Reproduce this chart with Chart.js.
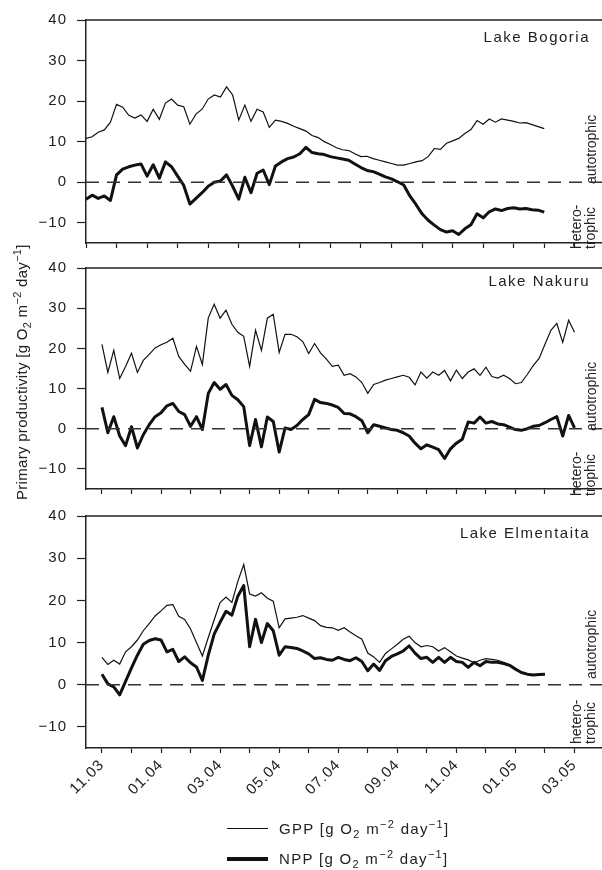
<!DOCTYPE html>
<html lang="en">
<head>
<meta charset="UTF-8">
<title>Primary productivity</title>
<script src="https://cdn.jsdelivr.net/npm/chart.js@4.4.1/dist/chart.umd.min.js"></script>
<style>
  body { margin: 0; background: #fff; }
  #fig { position: relative; width: 602px; height: 870px; overflow: hidden; background: #fff;
         font-family: "Liberation Sans", Arial, sans-serif; color: #222; }
  #fig canvas { position: absolute; left: 0; }
  .lake { position: absolute; right: 12px; font-size: 15px; letter-spacing: 1.5px; line-height: 18px; }
  .rot { position: absolute; transform-origin: 0 0; transform: rotate(-90deg); white-space: nowrap;
         font-size: 14px; line-height: 14px; }
  .ytitle { font-size: 15px; line-height: 18px; letter-spacing: 0.3px; }
  .leg { position: absolute; left: 279px; font-size: 15px; line-height: 18px; letter-spacing: 1.3px; white-space: nowrap; }
  .legline { position: absolute; left: 227px; width: 41px; background: #111; }
  sub, sup { font-size: 11px; line-height: 0; }
</style>
</head>
<body>
<div id="fig">
  <canvas id="bogoria" width="602" height="262" style="top:0px"></canvas>
  <canvas id="nakuru" width="602" height="262" style="top:246px"></canvas>
  <canvas id="elmentaita" width="602" height="326" style="top:494px"></canvas>

  <div class="lake" style="top:28px">Lake Bogoria</div>
  <div class="lake" style="top:272px">Lake Nakuru</div>
  <div class="lake" style="top:524px">Lake Elmentaita</div>

  <div class="rot" style="left:584px; top:184px">autotrophic</div>
  <div class="rot" style="left:569px; top:249px">hetero-<br>trophic</div>
  <div class="rot" style="left:584px; top:431px">autotrophic</div>
  <div class="rot" style="left:569px; top:496px">hetero-<br>trophic</div>
  <div class="rot" style="left:584px; top:679px">autotrophic</div>
  <div class="rot" style="left:569px; top:744px">hetero-<br>trophic</div>

  <div class="rot ytitle" style="left:13px; top:500px">Primary productivity [g O<sub>2</sub> m<sup>&minus;2</sup> day<sup>&minus;1</sup>]</div>

  <div class="legline" style="top:828px; height:1.3px"></div>
  <div class="leg" style="top:820px">GPP [g O<sub>2</sub> m<sup>&minus;2</sup> day<sup>&minus;1</sup>]</div>
  <div class="legline" style="top:857px; height:3.5px"></div>
  <div class="leg" style="top:850px">NPP [g O<sub>2</sub> m<sup>&minus;2</sup> day<sup>&minus;1</sup>]</div>
</div>

<script>
// x = months since 1 Nov 2003, one value every STEP months
const STEP = 0.2;
const DATE_LABELS = ['11.03', '01.04', '03.04', '05.04', '07.04', '09.04', '11.04', '01.05', '03.05'];
const MONTH_TICKS = [0, 1, 2, 3, 4, 5, 6, 7, 8, 9, 10, 11, 12, 13, 14, 15, 16];

// Lake Bogoria (0 .. 15.0 months)
const bogoriaGPP = [10.8, 11.2, 12.3, 12.9, 14.8, 19.2, 18.5, 16.5, 15.8, 16.6,
  15.0, 18.0, 15.5, 19.5, 20.5, 19.0, 18.6, 14.3, 16.8, 18.0,
  20.5, 21.5, 21.0, 23.5, 21.5, 15.3, 19.0, 15.0, 18.0, 17.3,
  13.5, 15.3, 15.0, 14.5, 13.8, 13.2, 12.6, 11.5, 11.0, 10.0,
  9.3, 8.5, 8.0, 7.8, 7.0, 6.3, 6.4, 5.8, 5.4, 5.0,
  4.6, 4.2, 4.2, 4.6, 5.0, 5.3, 6.3, 8.3, 8.1, 9.6,
  10.2, 10.8, 12.0, 13.0, 15.2, 14.3, 15.6, 14.8, 15.6, 15.3,
  15.0, 14.6, 14.7, 14.2, 13.7, 13.2];
const bogoriaNPP = [-4.2, -3.2, -4.0, -3.4, -4.5, 1.8, 3.2, 3.8, 4.2, 4.5,
  1.5, 4.3, 1.0, 5.0, 3.8, 1.5, -0.8, -5.4, -4.0, -2.6,
  -1.0, 0.0, 0.3, 1.8, -1.0, -4.2, 1.2, -2.6, 2.2, 3.0,
  -0.6, 4.0, 5.0, 5.8, 6.2, 7.0, 8.6, 7.3, 7.0, 6.8,
  6.3, 6.0, 5.7, 5.4, 4.5, 3.6, 2.9, 2.6, 2.0, 1.3,
  0.8, 0.1, -0.7, -3.4, -5.5, -7.8, -9.4, -10.6, -11.7, -12.3,
  -12.0, -12.9, -11.5, -10.5, -7.8, -8.8, -7.3, -6.6, -7.0, -6.5,
  -6.3, -6.6, -6.5, -6.8, -6.9, -7.4];

// Lake Nakuru (0 .. 16.0 months)
const nakuruGPP = [21.0, 14.0, 19.5, 12.5, 15.5, 18.8, 14.0, 17.0, 18.5, 20.1,
  20.9, 21.5, 22.5, 18.0, 16.0, 14.3, 20.5, 16.0, 27.6, 31.0,
  27.5, 29.5, 26.0, 24.0, 23.0, 15.5, 24.5, 19.5, 27.5, 28.5,
  19.0, 23.5, 23.5, 22.9, 21.7, 18.7, 21.2, 18.9, 17.3, 15.5,
  15.8, 13.3, 13.7, 12.9, 11.5, 8.8, 11.0, 11.5, 12.1, 12.5,
  12.9, 13.3, 12.8, 10.9, 14.1, 12.6, 14.1, 13.3, 14.5, 11.9,
  14.6, 12.5, 14.1, 14.9, 13.3, 15.3, 13.0, 12.6, 13.3, 12.5,
  11.2, 11.5, 13.5, 15.7, 17.5, 21.0, 24.5, 26.2, 21.5, 27.0,
  24.0];
const nakuruNPP = [5.3, -1.0, 3.0, -1.8, -4.2, 0.5, -4.8, -1.5, 1.0, 3.0,
  4.0, 5.7, 6.3, 4.3, 3.5, 0.6, 3.0, -0.2, 8.8, 11.5,
  9.8, 11.0, 8.3, 7.2, 5.5, -4.2, 2.3, -4.5, 2.9, 1.8,
  -5.8, 0.2, -0.2, 0.8, 2.3, 3.5, 7.3, 6.5, 6.3, 5.9,
  5.3, 3.8, 3.7, 3.0, 2.0, -1.0, 1.0, 0.6, 0.2, -0.2,
  -0.4, -1.0, -1.8, -3.6, -5.0, -4.0, -4.6, -5.2, -7.4, -5.0,
  -3.6, -2.6, 1.7, 1.4, 2.9, 1.4, 1.8, 1.2, 1.0, 0.4,
  -0.2, -0.4, 0.0, 0.6, 0.8, 1.5, 2.3, 3.0, -1.8, 3.3,
  0.2];

// Lake Elmentaita (0 .. 15.0 months)
const elmentaitaGPP = [6.5, 4.8, 5.8, 4.9, 7.8, 9.0, 10.6, 12.8, 14.5, 16.3,
  17.5, 18.8, 19.0, 16.2, 15.5, 13.2, 10.0, 6.8, 11.2, 15.4,
  19.5, 20.8, 19.5, 24.5, 28.5, 21.5, 21.0, 21.8, 20.5, 19.8,
  13.5, 15.6, 15.8, 16.0, 16.4, 15.8, 15.2, 14.0, 13.6, 13.5,
  12.9, 13.5, 12.5, 11.6, 10.8, 7.5, 6.6, 5.3, 7.4, 8.5,
  9.6, 10.8, 11.5, 10.0, 9.0, 9.3, 9.0, 8.0, 8.8, 7.8,
  6.8, 6.3, 5.9, 5.2, 5.8, 6.2, 6.0, 5.8, 5.3, 4.8,
  3.7, 2.9, 2.5, 2.3, 2.4, 2.5];
const elmentaitaNPP = [2.5, 0.2, -0.5, -2.4, 0.8, 4.0, 7.0, 9.6, 10.5, 10.9,
  10.6, 7.8, 8.4, 5.5, 6.6, 5.2, 4.2, 1.0, 7.0, 12.0,
  14.8, 17.4, 16.5, 21.0, 23.5, 9.0, 15.5, 10.0, 14.5, 12.8,
  7.0, 9.0, 8.8, 8.6, 8.0, 7.3, 6.2, 6.4, 6.0, 5.8,
  6.5, 6.0, 5.7, 6.4, 5.5, 3.3, 4.9, 3.4, 5.7, 6.7,
  7.3, 8.0, 9.2, 7.5, 6.2, 6.5, 5.3, 6.5, 5.3, 6.5,
  5.5, 5.3, 4.1, 5.3, 4.5, 5.5, 5.3, 5.3, 5.0, 4.6,
  3.7, 2.9, 2.5, 2.3, 2.4, 2.5];

const FONT = { family: '"Liberation Sans", Arial, sans-serif', size: 15 };
const INK = '#222';

function toPoints(vals) {
  return vals.map((v, i) => ({ x: i * STEP, y: v }));
}

// closes each panel at the top
const topFrame = {
  id: 'topFrame',
  afterDatasetsDraw(chart) {
    const { ctx, chartArea: a } = chart;
    ctx.save();
    ctx.strokeStyle = INK;
    ctx.lineWidth = 1.5;
    ctx.beginPath();
    ctx.moveTo(a.left, a.top);
    ctx.lineTo(a.right, a.top);
    ctx.stroke();
    ctx.restore();
  }
};

// slightly wider lettering, like the scanned figure
const spacing = {
  id: 'spacing',
  beforeLayout(chart) { chart.ctx.letterSpacing = '1px'; },
  beforeDraw(chart) { chart.ctx.letterSpacing = '1px'; }
};

function makePanel(id, gpp, npp, xMin, xMax, padTop, xAxisHeight, showDates) {
  return new Chart(document.getElementById(id), {
    type: 'line',
    data: {
      datasets: [
        { label: 'zero', data: [{ x: xMin, y: 0 }, { x: xMax, y: 0 }], borderColor: '#333',
          borderWidth: 1.5, borderDash: [13, 8], pointRadius: 0 },
        { label: 'NPP', data: toPoints(npp), borderColor: '#111', borderWidth: 3,
          pointRadius: 0, tension: 0, borderJoinStyle: 'round' },
        { label: 'GPP', data: toPoints(gpp), borderColor: '#111', borderWidth: 1.2,
          pointRadius: 0, tension: 0 }
      ]
    },
    options: {
      responsive: false,
      animation: false,
      events: [],
      layout: { padding: { top: padTop, left: 0, right: 0, bottom: 0 } },
      plugins: { legend: { display: false }, tooltip: { enabled: false } },
      scales: {
        x: {
          type: 'linear',
          min: xMin,
          max: xMax,
          afterBuildTicks: s => { s.ticks = MONTH_TICKS.map(v => ({ value: v })); },
          afterFit: s => { s.height = xAxisHeight; },
          grid: { display: true, drawOnChartArea: false, drawTicks: true, tickLength: 5, tickWidth: 1.2, tickColor: INK },
          border: { display: true, color: INK, width: 1.5 },
          ticks: {
            display: showDates,
            autoSkip: false,
            minRotation: 45,
            maxRotation: 45,
            padding: 3,
            color: INK,
            font: FONT,
            callback: v => (v % 2 === 0 ? DATE_LABELS[v / 2] : '')
          }
        },
        y: {
          min: -15,
          max: 40,
          afterBuildTicks: s => { s.ticks = s.ticks.filter(t => t.value % 10 === 0); },
          afterFit: s => { s.width = 86; },
          grid: { display: true, drawOnChartArea: false, drawTicks: true, tickLength: 9, tickWidth: 1.2, tickColor: INK },
          border: { display: true, color: INK, width: 1.5 },
          ticks: {
            stepSize: 10,
            padding: 10,
            color: INK,
            font: FONT,
            callback: v => (v < 0 ? '\u2212' + Math.abs(v) : String(v))
          }
        }
      }
    },
    plugins: [topFrame, spacing]
  });
}

makePanel('bogoria', bogoriaGPP, bogoriaNPP, 0, 16.89, 20, 10, false);
makePanel('nakuru', nakuruGPP, nakuruNPP, -0.54, 16.93, 22, 9, false);
makePanel('elmentaita', elmentaitaGPP, elmentaitaNPP, -0.54, 16.93, 22, 72, true);
</script>
</body>
</html>
